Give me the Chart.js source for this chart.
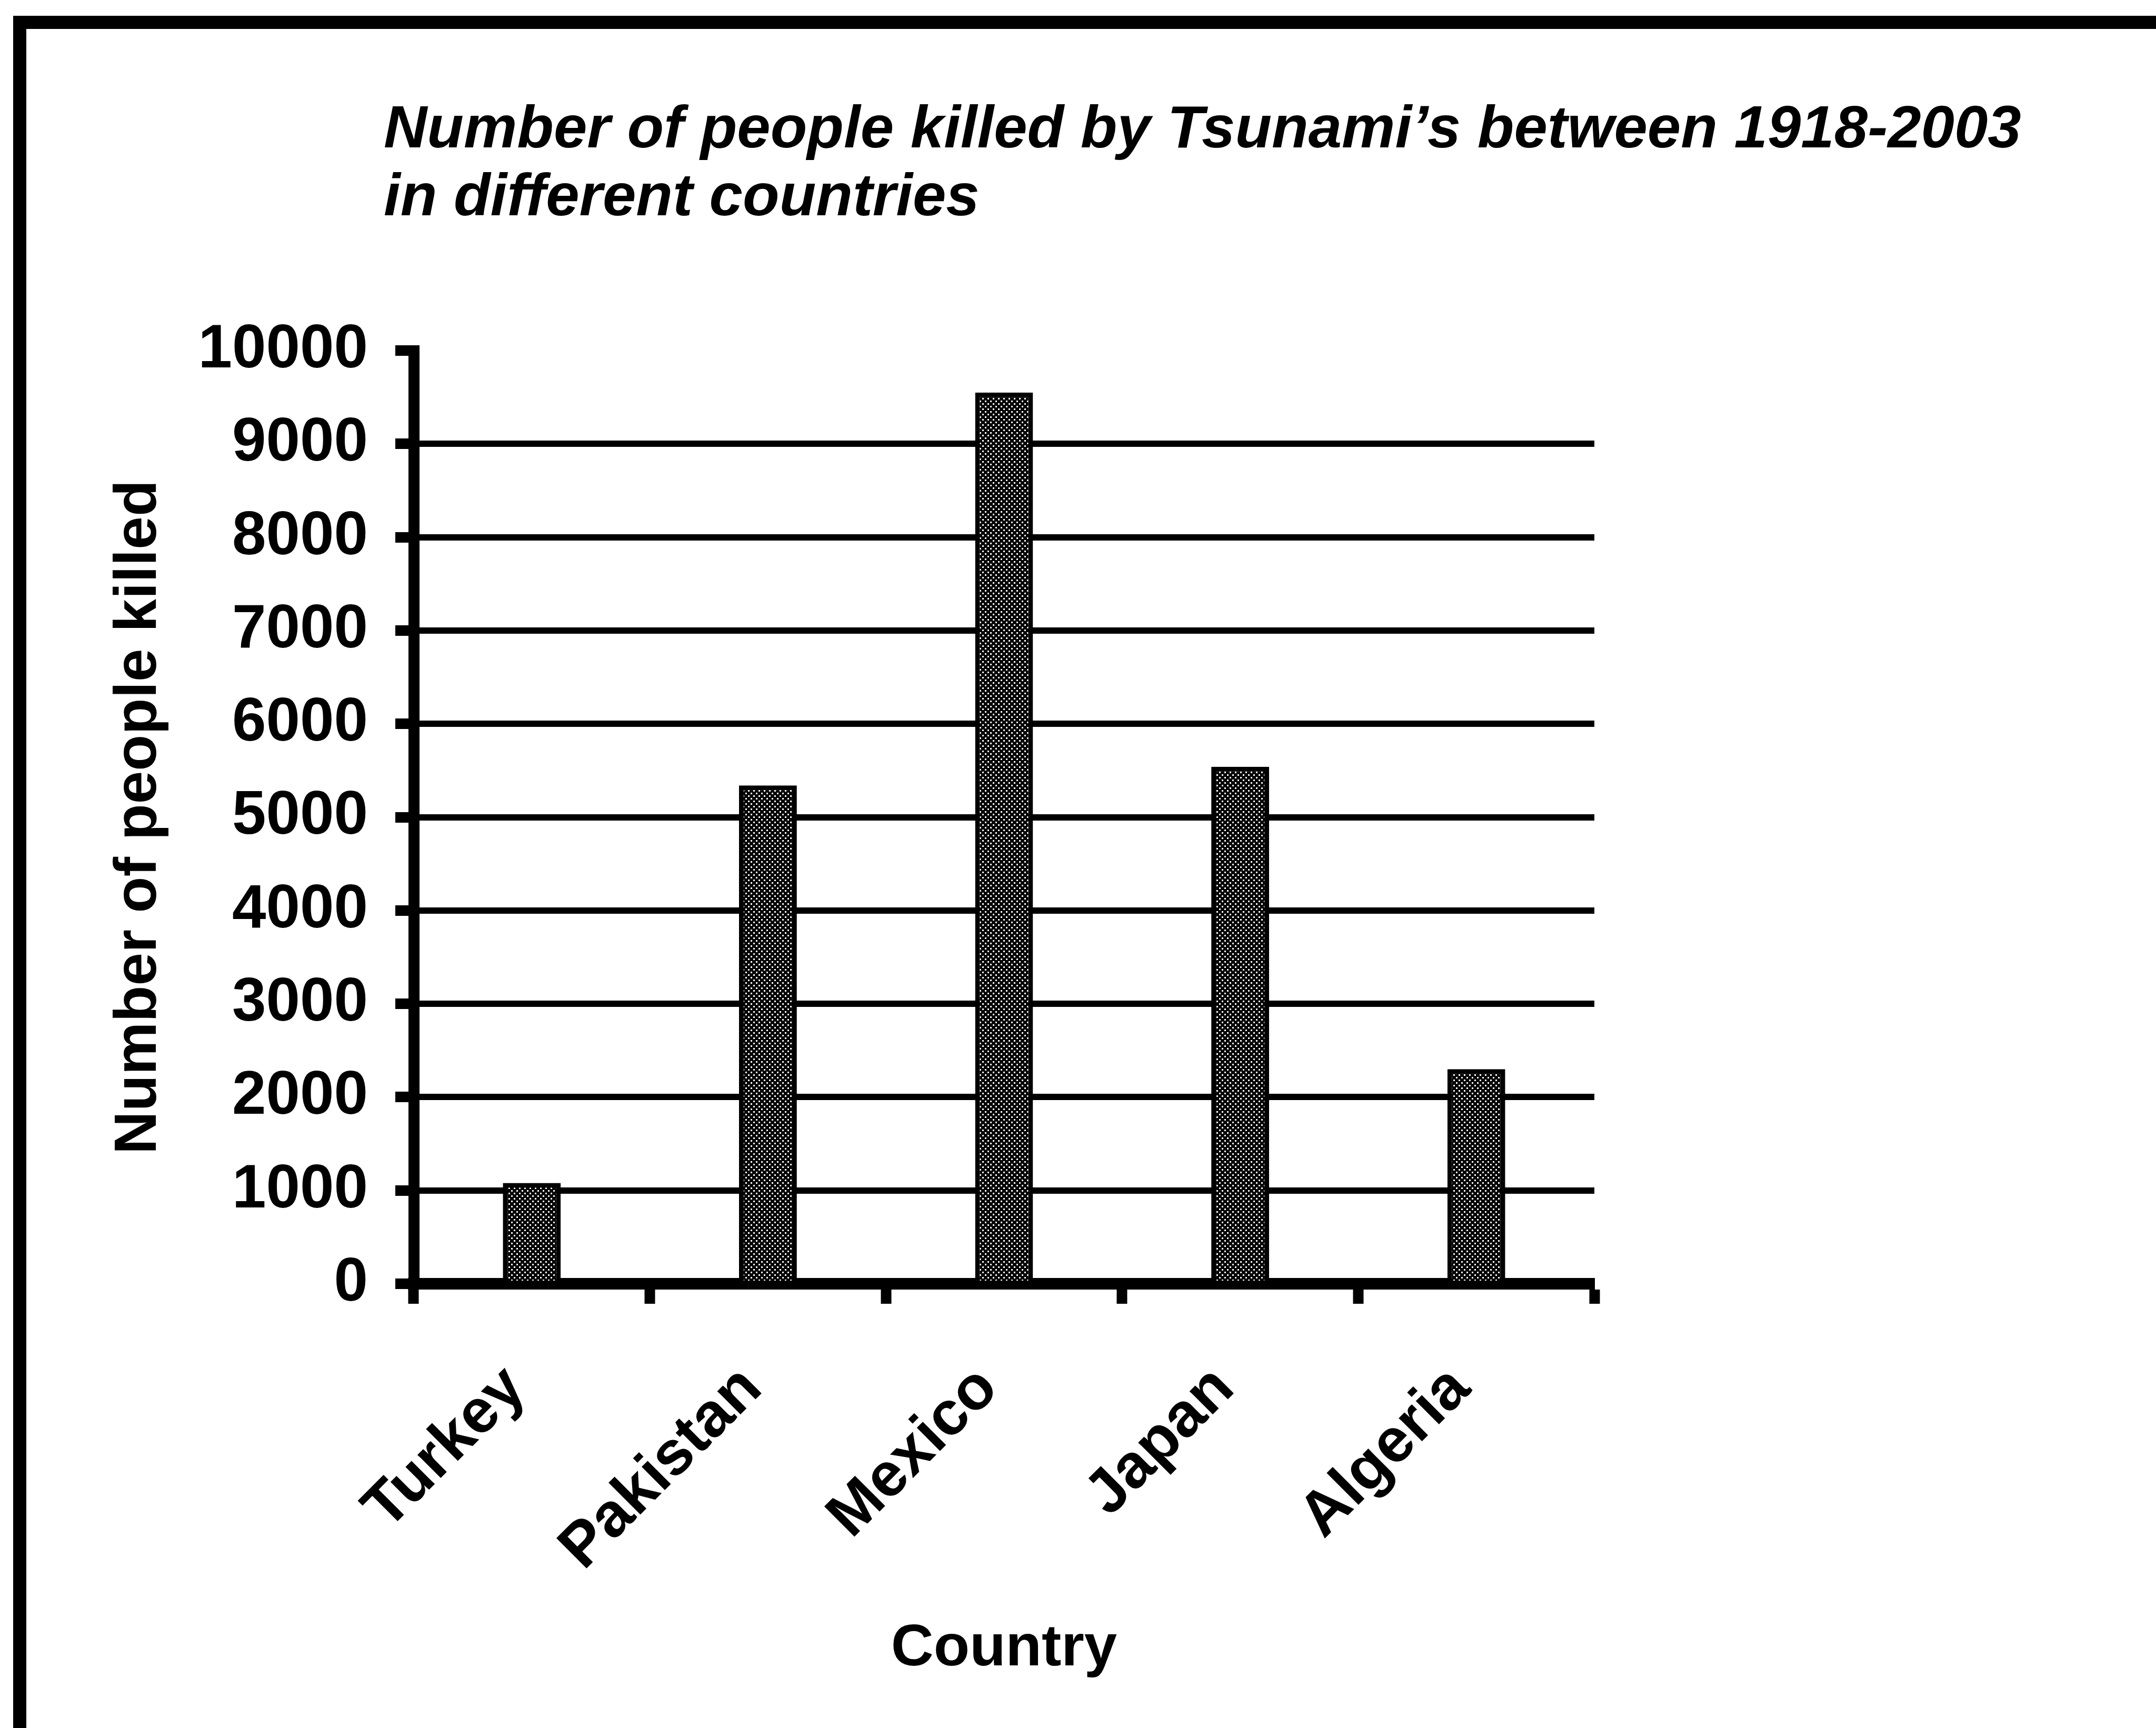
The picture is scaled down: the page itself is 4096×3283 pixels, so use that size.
<!DOCTYPE html>
<html>
<head>
<meta charset="utf-8">
<title>Number of people killed by Tsunami's between 1918-2003</title>
<script src="https://cdn.jsdelivr.net/npm/chart.js@4.4.1/dist/chart.umd.min.js"></script>
<style>
  html, body { margin: 0; padding: 0; background: #ffffff; }
  #page { position: relative; width: 4096px; height: 3283px; overflow: hidden; background: #ffffff; }
  #frameTop { position: absolute; left: 25px; top: 30px; width: 4071px; height: 25px; background: #000; }
  #frameLeft { position: absolute; left: 25px; top: 30px; width: 25px; height: 3253px; background: #000; }
  #chartTitle {
    position: absolute; left: 729px; top: 176px;
    font-family: "Liberation Sans", Arial, sans-serif;
    font-weight: bold; font-style: italic;
    font-size: 114px; line-height: 129px; color: #000;
    white-space: nowrap;
  }
  #chart { position: absolute; left: 0; top: 0; }
</style>
</head>
<body>
<div id="page">
  <div id="frameTop"></div>
  <div id="frameLeft"></div>
  <div id="chartTitle">Number of people killed by Tsunami’s between 1918-2003<br>in different countries</div>
  <canvas id="chart" width="4096" height="3283"></canvas>
</div>
<script>
// Countries on the category axis
const countries = ["Turkey", "Pakistan", "Mexico", "Japan", "Algeria"];
// Number of people killed in each country
const deaths = [1080, 5340, 9550, 5540, 2300];
// Value-axis tick labels
const yTickValues = [0, 1000, 2000, 3000, 4000, 5000, 6000, 7000, 8000, 9000, 10000];
const yAxisTitle = "Number of people killed";
const xAxisTitle = "Country";

const FONT = '"Liberation Sans", Arial, sans-serif';

// Dotted dark fill for the bars
function makeStipple() {
  const c = document.createElement('canvas');
  c.width = 10; c.height = 10;
  const g = c.getContext('2d');
  g.fillStyle = '#000';
  g.fillRect(0, 0, 10, 10);
  g.fillStyle = '#fff';
  g.fillRect(1, 1, 3, 3);
  g.fillRect(6, 6, 3, 3);
  return g.createPattern(c, 'repeat');
}

const ctx = document.getElementById('chart').getContext('2d');
const stipple = makeStipple();

new Chart(ctx, {
  type: 'bar',
  data: {
    labels: countries,
    datasets: [{
      data: deaths,
      backgroundColor: stipple,
      borderColor: '#000',
      borderWidth: 9,
      barPercentage: 0.245,
      categoryPercentage: 1.0
    }]
  },
  options: {
    responsive: false,
    devicePixelRatio: 1,
    animation: false,
    layout: { padding: { left: 0, top: 666, right: 1067, bottom: 0 } },
    plugins: {
      legend: { display: false },
      tooltip: { enabled: false },
      title: { display: false }
    },
    scales: {
      x: {
        afterFit: (scale) => { scale.height = 844; },
        grid: {
          display: true,
          drawOnChartArea: false,
          drawTicks: true,
          tickLength: 38,
          tickWidth: 20,
          tickColor: '#000',
          color: '#000',
          offset: true
        },
        border: { display: true, color: '#000', width: 22 },
        ticks: {
          color: '#000',
          font: { family: FONT, size: 118, weight: 'bold' },
          minRotation: 45,
          maxRotation: 45,
          padding: 92,
          labelOffset: -30,
          autoSkip: false
        },
        title: {
          display: true,
          text: xAxisTitle,
          color: '#000',
          font: { family: FONT, size: 112, weight: 'bold' },
          padding: { top: 0, bottom: 83 }
        }
      },
      y: {
        min: 0,
        max: 10000,
        afterFit: (scale) => { scale.width = 786; },
        afterBuildTicks: (scale) => { scale.ticks = yTickValues.map(v => ({ value: v })); },
        grid: {
          color: (c) => (c.tick && c.tick.value === 10000) ? 'rgba(0,0,0,0)' : '#000',
          lineWidth: 12,
          drawTicks: true,
          tickLength: 35,
          tickWidth: 20,
          tickColor: '#000'
        },
        border: { display: true, color: '#000', width: 21 },
        ticks: {
          color: '#000',
          font: { family: FONT, size: 116, weight: 'bold' },
          padding: 52,
          callback: (v) => String(v)
        },
        title: {
          display: true,
          text: yAxisTitle,
          color: '#000',
          font: { family: FONT, size: 113, weight: 'bold' },
          padding: { top: 197, bottom: 0 }
        }
      }
    }
  }
});
</script>
</body>
</html>
